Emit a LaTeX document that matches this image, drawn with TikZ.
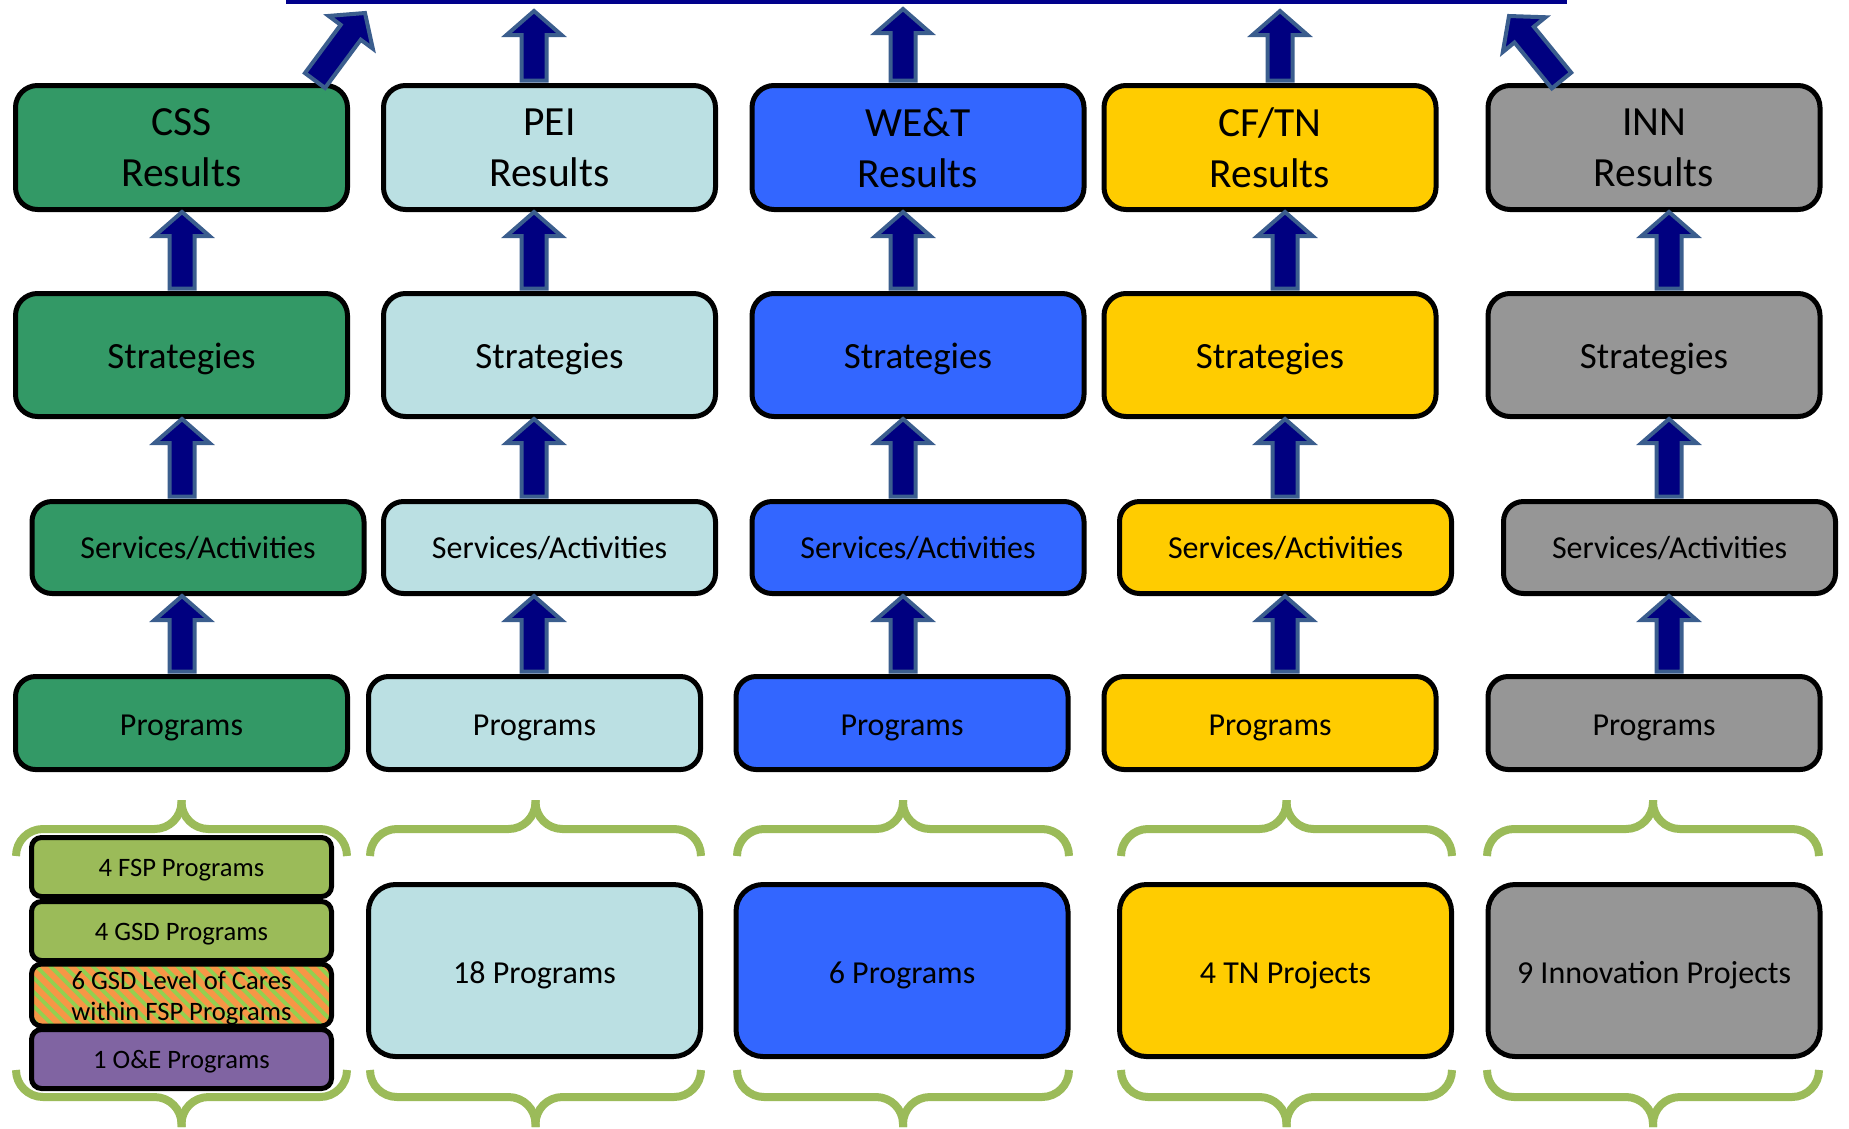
\documentclass[tikz,border=0pt]{standalone}
\usepackage{fontspec}
\setmainfont{Carlito}
\usetikzlibrary{calc,patterns.meta}
\definecolor{cssG}{HTML}{339966}
\definecolor{peiB}{HTML}{BBE0E3}
\definecolor{weB}{HTML}{3366FF}
\definecolor{cfY}{HTML}{FFCC00}
\definecolor{innG}{HTML}{969696}
\definecolor{stG}{HTML}{9BBB59}
\definecolor{hatchO}{HTML}{F79646}
\definecolor{hatchG}{HTML}{92D050}
\definecolor{oePurple}{HTML}{8064A2}
\definecolor{braceG}{HTML}{9BBB59}
\definecolor{arrNavy}{HTML}{000080}
\definecolor{arrEdge}{HTML}{3B5E8E}
\definecolor{lineNavy}{HTML}{00008B}
\newcommand\fres{\fontsize{41.5}{51}\selectfont}
\newcommand\fstr{\fontsize{37}{44}\selectfont}
\newcommand\fsvc{\fontsize{32}{38}\selectfont}
\newcommand\fstk{\fontsize{26.6}{31}\selectfont}
\newcommand\fatarr[2]{%
  \coordinate (fas) at #1;
  \coordinate (fat) at #2;
  \coordinate (fah) at ($(fat)!24pt!(fas)$);
  \draw[fatsty] ($(fas)!12.5pt!90:(fat)$) -- ($(fah)!12.5pt!90:(fat)$) -- ($(fah)!27.5pt!90:(fat)$) -- (fat) -- ($(fah)!27.5pt!-90:(fat)$) -- ($(fah)!12.5pt!-90:(fat)$) -- ($(fas)!12.5pt!-90:(fat)$) -- cycle;}
\newcommand\topbrace[3]{%
  \draw[bracesty] (#1,856) -- (#1,829) -- (#2,829) -- (#2,800);
  \draw[bracesty] (#3,856) -- (#3,829) -- (#2,829) -- (#2,800);}
\newcommand\botbrace[3]{%
  \draw[bracesty] (#1,1070) -- (#1,1097) -- (#2,1097) -- (#2,1127);
  \draw[bracesty] (#3,1070) -- (#3,1097) -- (#2,1097) -- (#2,1127);}
\tikzset{
  box/.style={draw=black, line width=5pt, rectangle, minimum width=332pt, inner sep=0pt, align=center, text=black},
  resbox/.style={box, rounded corners=22pt, minimum height=124pt, font=\fres},
  strbox/.style={box, text height=26pt, text depth=0pt, rounded corners=22pt, minimum height=123pt, font=\fstr},
  svcbox/.style={box, text height=22.4pt, text depth=0pt, rounded corners=20pt, minimum height=92pt, font=\fsvc},
  prgbox/.style={box, text height=24pt, text depth=0pt, rounded corners=20pt, minimum height=93pt, font=\fsvc},
  botbox/.style={box, text height=26.6pt, text depth=0pt, rounded corners=27pt, minimum height=172pt, font=\fsvc},
  stkbox/.style={box, rounded corners=10pt, minimum width=300pt, minimum height=59pt, font=\fstk},
  stkone/.style={stkbox, text height=19pt, text depth=0pt},
  fatsty/.style={fill=arrNavy, draw=arrEdge, line width=4pt, line join=miter},
  bracesty/.style={draw=braceG, line width=8pt, rounded corners=27pt, line cap=butt}
}
\begin{document}
\begin{tikzpicture}[x=1pt,y=-1pt]
\useasboundingbox (0,0) rectangle (1849,1128);
% top line
\coordinate (tl) at (286,2);
\coordinate (tr) at (1567,2);
\draw[lineNavy, line width=4pt] (tl) -- (tr);
% column x references
\coordinate (xc1) at (182,0);
\coordinate (xc2) at (534,0);
\coordinate (xc3) at (903,0);
\coordinate (xc4) at (1285,0);
\coordinate (xc5) at (1669,0);
% Results
\node[resbox, fill=cssG] (res1) at (181.5,147.5) {CSS\\Results};
\node[resbox, fill=peiB] (res2) at (549.5,147.5) {PEI\\Results};
\node[resbox, fill=weB]  (res3) at (918,147.5) {WE\&T\\Results};
\node[resbox, fill=cfY]  (res4) at (1270,147.5) {CF/TN\\Results};
\node[resbox, fill=innG] (res5) at (1654,147.5) {INN\\Results};
% Strategies
\node[strbox, fill=cssG] (str1) at (181.5,355) {Strategies};
\node[strbox, fill=peiB] (str2) at (549.5,355) {Strategies};
\node[strbox, fill=weB]  (str3) at (918,355) {Strategies};
\node[strbox, fill=cfY]  (str4) at (1270,355) {Strategies};
\node[strbox, fill=innG] (str5) at (1654,355) {Strategies};
% Services
\node[svcbox, fill=cssG] (svc1) at (198,547.5) {Services/Activities};
\node[svcbox, fill=peiB] (svc2) at (549.5,547.5) {Services/Activities};
\node[svcbox, fill=weB]  (svc3) at (918,547.5) {Services/Activities};
\node[svcbox, fill=cfY]  (svc4) at (1285.5,547.5) {Services/Activities};
\node[svcbox, fill=innG] (svc5) at (1669.5,547.5) {Services/Activities};
% Programs
\node[prgbox, fill=cssG] (prg1) at (181.5,723) {Programs};
\node[prgbox, fill=peiB] (prg2) at (534.5,723) {Programs};
\node[prgbox, fill=weB]  (prg3) at (902,723) {Programs};
\node[prgbox, fill=cfY]  (prg4) at (1270,723) {Programs};
\node[prgbox, fill=innG] (prg5) at (1654,723) {Programs};
% CSS stack
\node[stkone, fill=stG] (stk1) at (181.5,867) {4 FSP Programs};
\node[stkone, fill=stG] (stk2) at (181.5,931) {4 GSD Programs};
\node[stkbox, preaction={fill=hatchO}, pattern={Lines[angle=-45,distance=10pt,line width=3.8pt]}, pattern color=hatchG] (stk3) at (181.5,995) {\raisebox{-3.5pt}[\height][\depth]{\begin{tabular}{@{}c@{}}6 GSD Level of Cares\\within FSP Programs\end{tabular}}};
\node[stkone, fill=oePurple] (stk4) at (181.5,1059) {1 O\&E Programs};
% bottom boxes
\node[botbox, fill=peiB] (bot2) at (534.5,970.5) {18 Programs};
\node[botbox, fill=weB]  (bot3) at (902,970.5) {6 Programs};
\node[botbox, fill=cfY]  (bot4) at (1285.5,970.5) {4 TN Projects};
\node[botbox, fill=innG] (bot5) at (1654,970.5) {9 Innovation Projects};
% braces
\topbrace{16}{181.5}{347}
\botbrace{16}{181.5}{347}
\topbrace{370}{535.5}{701}
\botbrace{370}{535.5}{701}
\topbrace{737}{903}{1069}
\botbrace{737}{903}{1069}
\topbrace{1121}{1286.5}{1452}
\botbrace{1121}{1286.5}{1452}
\topbrace{1487}{1653}{1819}
\botbrace{1487}{1653}{1819}
% arrows between rows
\foreach \i in {1,...,5}{
  \fatarr{($(xc\i |- str\i.north)+(0,-2.5)$)}{(xc\i |- res\i.south)}
  \fatarr{($(xc\i |- svc\i.north)+(0,-2.5)$)}{(xc\i |- str\i.south)}
  \fatarr{($(xc\i |- prg\i.north)+(0,-2.5)$)}{(xc\i |- svc\i.south)}
}
% arrows to top line
\coordinate (t1) at (365,13);
\coordinate (t2) at (534,11);
\coordinate (t3) at (903,9);
\coordinate (t4) at (1280,11);
\coordinate (t5) at (1509,16);
\fatarr{($(res1.north west)+(302,-2.5)$)}{(t1)}
\fatarr{($(xc2 |- res2.north)+(0,-2.5)$)}{(t2)}
\fatarr{($(xc3 |- res3.north)+(0,-2.5)$)}{(t3)}
\fatarr{($(t4 |- res4.north)+(0,-2.5)$)}{(t4)}
\fatarr{($(res5.north west)+(76,-2.5)$)}{(t5)}
\end{tikzpicture}
\end{document}
